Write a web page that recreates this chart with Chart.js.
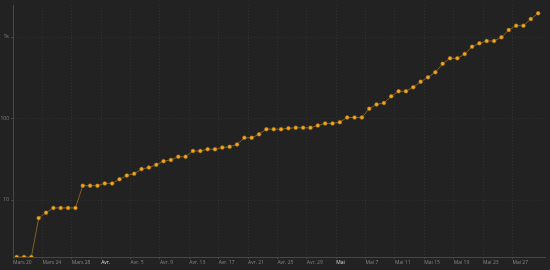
<!DOCTYPE html>
<html>
<head>
<meta charset="utf-8">
<script src="https://cdn.jsdelivr.net/npm/chart.js@4"></script>
<style>
    html, body { margin: 0; padding: 0; background: #222222; }
    canvas { display: block; }
</style>
</head>
<body>
<canvas id="casesChart" width="550" height="270"></canvas>
<script>
// Daily totals, one per day starting Mars 20
const values = [
    2, 2, 2, 6, 7, 8, 8, 8, 8, 15,
    15, 15, 16, 16, 18, 20, 21, 24, 25, 27,
    30, 31, 34, 34, 40, 40, 42, 42, 44, 45,
    48, 58, 58, 64, 74, 74, 74, 76, 77, 77,
    77, 82, 87, 87, 90, 103, 103, 103, 132, 149,
    155, 187, 216, 216, 242, 283, 320, 369, 470, 548,
    548, 618, 760, 837, 893, 893, 991, 1219, 1376, 1376,
    1663, 1954
];

// x axis labels, one every 4 days
const tickLabels = [
    'Mars 20', 'Mars 24', 'Mars 28', 'Avr.', 'Avr. 5', 'Avr. 9',
    'Avr. 13', 'Avr. 17', 'Avr. 21', 'Avr. 25', 'Avr. 29', 'Mai',
    'Mai 7', 'Mai 11', 'Mai 15', 'Mai 19', 'Mai 23', 'Mai 27'
];
const monthLabels = ['Avr.', 'Mai'];
const tickStep = 4;

const yTicks = [10, 100, 1000];

const colors = {
    point: '#f2a51f',
    pointBorder: '#7d5a14',
    line: 'rgba(220, 155, 40, 0.5)',
    grid: 'rgba(255, 255, 255, 0.06)',
    axis: '#474747',
    label: '#858585',
    month: '#dcdcdc'
};

document.addEventListener('DOMContentLoaded', function() {
    const ctx = document.getElementById('casesChart').getContext('2d');

    new Chart(ctx, {
        type: 'line',
        data: {
            datasets: [{
                data: values.map((v, i) => ({ x: i + 0.5, y: v })),
                borderColor: colors.line,
                borderWidth: 1,
                pointBackgroundColor: colors.point,
                pointBorderColor: colors.pointBorder,
                pointBorderWidth: 0.5,
                pointRadius: 2,
                tension: 0
            }]
        },
        options: {
            responsive: false,
            animation: false,
            devicePixelRatio: 1,
            layout: { padding: 0 },
            plugins: {
                legend: { display: false },
                tooltip: { enabled: false }
            },
            scales: {
                x: {
                    type: 'linear',
                    min: 0,
                    max: values.length + 0.5,
                    afterBuildTicks: axis => {
                        axis.ticks = tickLabels.map((l, i) => ({ value: i * tickStep }));
                    },
                    afterFit: axis => { axis.height = 13; },
                    ticks: {
                        autoSkip: false,
                        maxRotation: 0,
                        align: 'start',
                        padding: 1,
                        font: { family: 'Open Sans', size: 5 },
                        color: c => monthLabels.includes(tickLabels[c.index]) ? colors.month : colors.label,
                        callback: (value, index) => tickLabels[index]
                    },
                    grid: {
                        color: colors.grid,
                        tickColor: colors.axis,
                        tickLength: 2
                    },
                    border: {
                        color: colors.axis,
                        dash: [1, 2]
                    }
                },
                y: {
                    type: 'logarithmic',
                    min: 2,
                    max: 2470,
                    afterBuildTicks: axis => {
                        axis.ticks = yTicks.map(v => ({ value: v }));
                    },
                    afterFit: axis => { axis.width = 13; },
                    ticks: {
                        padding: 2,
                        font: { family: 'Open Sans', size: 5 },
                        color: colors.label,
                        callback: value => value >= 1000 ? (value / 1000) + 'k' : String(value)
                    },
                    grid: {
                        color: colors.grid,
                        tickColor: colors.axis,
                        tickLength: 2
                    },
                    border: {
                        color: colors.axis,
                        dash: [1, 2]
                    }
                }
            }
        }
    });
});
</script>
</body>
</html>
